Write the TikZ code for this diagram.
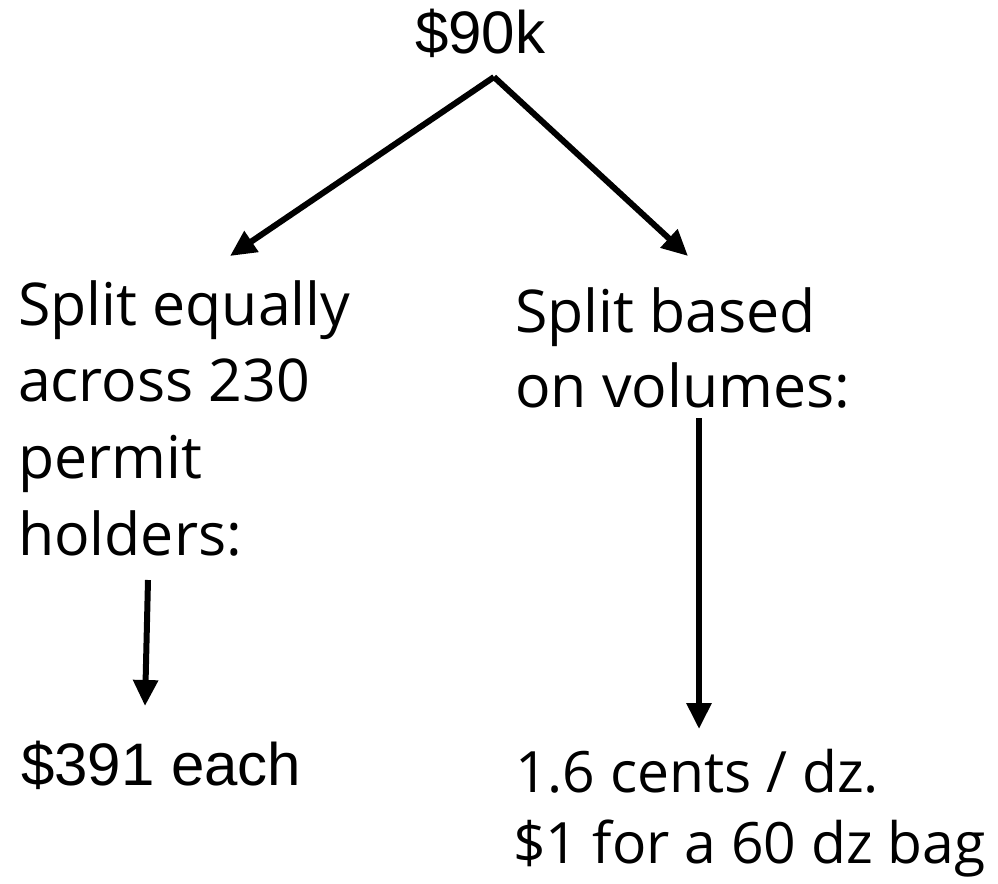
\documentclass[tikz,border=0pt]{standalone}
\usepackage{fontspec}
\setmainfont{Open Sans}
\newfontfamily\arialf{Liberation Sans}
\usetikzlibrary{arrows.meta}
\tikzset{
  aptos/.style={anchor=base west, inner sep=0pt, outer sep=0pt, font=\fontsize{59}{70}\selectfont},
  aptossm/.style={anchor=base west, inner sep=0pt, outer sep=0pt, font=\fontsize{57}{68}\selectfont},
  arial/.style={anchor=base west, inner sep=0pt, outer sep=0pt, font=\arialf\fontsize{60}{72}\selectfont},
  conn/.style={line width=6pt, -{Triangle[length=26pt,width=24pt]}}
}
\begin{document}
\begin{tikzpicture}[x=1pt,y=-1pt]
\useasboundingbox (0,0) rectangle (998,883);
% texts
\node[arial] (top) at (415,53) {\$90k};
\node[aptos] (l1) at (18,325) {Split equally};
\node[aptos] (l2) at (18,401) {across 230};
\node[aptos] (l3) at (18,478) {permit};
\node[aptos] (l4) at (18,555) {holders:};
\node[aptos] (r1) at (515,332) {Split based};
\node[aptos] (r2) at (515,407) {on volumes:};
\node[arial] (each) at (21,785) {\$391 each};
\node[aptossm] (c1) at (515,792) {1.6 cents / dz.};
\node[aptossm] (c2) at (513,863) {\$1 for a 60 dz bag};
% connector ends
\coordinate (apexL) at (494,77);
\coordinate (apexR) at (494,77);
\coordinate (tipL) at (230,256);
\coordinate (tipR) at (688,256);
\coordinate (dlS) at (148,580);
\coordinate (dlE) at (145,706);
\coordinate (drS) at (699,418);
\coordinate (drE) at (699,729);
% connectors
\draw[conn] (apexL) -- (tipL);
\draw[conn] (apexR) -- (tipR);
\draw[conn] (dlS) -- (dlE);
\draw[conn] (drS) -- (drE);
\end{tikzpicture}
\end{document}
